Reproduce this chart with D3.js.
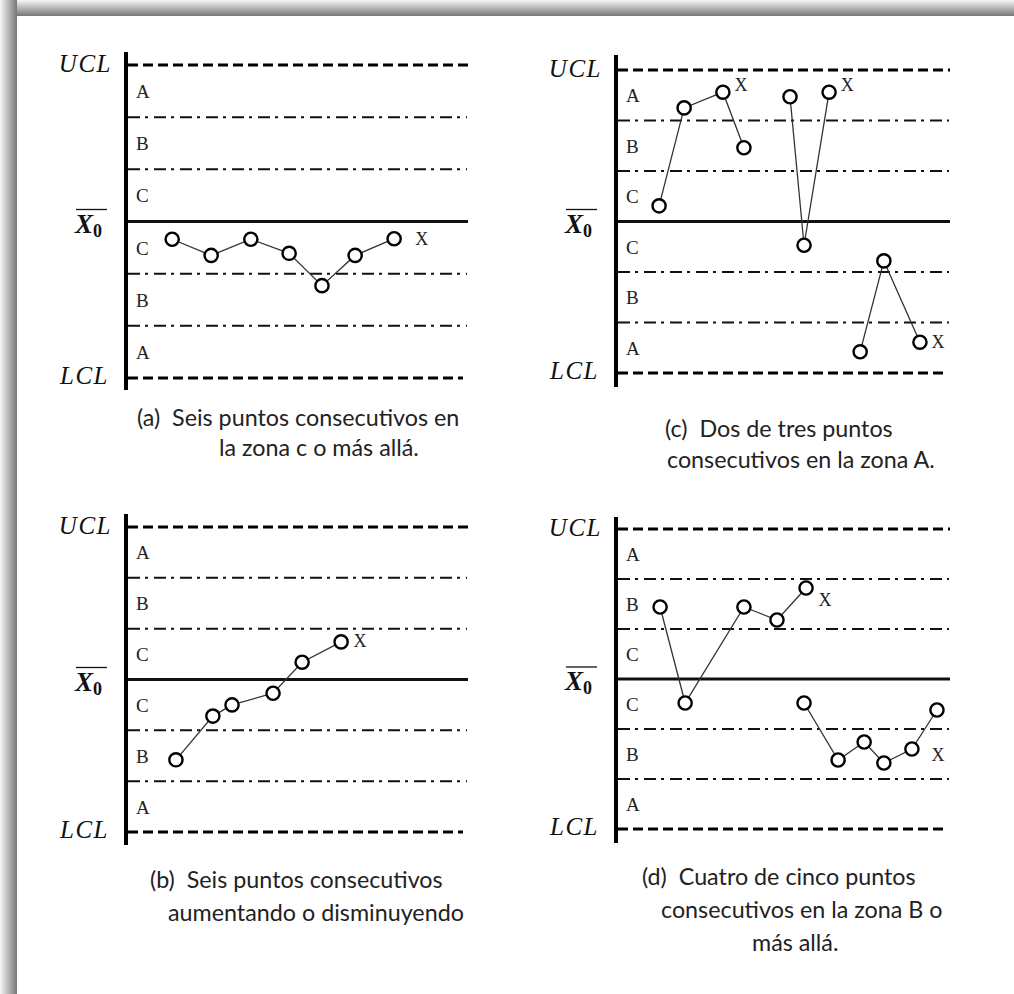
<!DOCTYPE html>
<html><head><meta charset="utf-8">
<script src="https://cdn.jsdelivr.net/npm/d3@7"></script>
<style>body{margin:0;background:#fff;overflow:hidden}</style></head>
<body><svg id="c" width="1014" height="994"></svg>
<script>
// ---- data (values in sigma units; x as % of the chart width) ----
const limitLevels = [3, -3];
const limitLabels = ["UCL", "LCL"];
const zoneLevels = [2, 1, -1, -2];
const zoneLabels = ["A", "B", "C", "C", "B", "A"];
const zoneLabelLevels = [2.5, 1.5, 0.5, -0.5, -1.5, -2.5];
const centerLevel = 0;

// panel (a)
const aX = [13.5, 24.9, 36.5, 47.7, 57.3, 67.0, 78.4];
const aV = [-0.34, -0.65, -0.34, -0.61, -1.23, -0.65, -0.33];
const aMarkX = [86.5];
const aMarkV = [-0.34];
const aCaption = ["(a)  Seis puntos consecutivos en", "la zona c o más allá."];

// panel (b)
const bX = [14.6, 25.4, 31.0, 43.0, 51.5, 62.9];
const bV = [-1.58, -0.72, -0.50, -0.27, 0.34, 0.74];
const bMarkX = [68.4];
const bMarkV = [0.76];
const bCaption = ["(b)  Seis puntos consecutivos", "aumentando o disminuyendo"];

// panel (c)
const c1X = [12.9, 20.4, 32.0, 38.3];
const c1V = [0.31, 2.25, 2.56, 1.46];
const c2X = [52.1, 56.3, 63.8];
const c2V = [2.47, -0.47, 2.56];
const c3X = [73.1, 80.2, 91.0];
const c3V = [-2.58, -0.78, -2.39];
const cMarkX = [37.4, 69.2, 96.4];
const cMarkV = [2.70, 2.70, -2.39];
const cCaption = ["(c)  Dos de tres puntos", "consecutivos en la zona A."];

// panel (d)
const d1X = [13.2, 20.7, 38.3, 48.2, 56.9];
const d1V = [1.44, -0.48, 1.44, 1.18, 1.82];
const d2X = [56.3, 66.5, 74.3, 80.2, 88.6, 96.1];
const d2V = [-0.48, -1.62, -1.26, -1.68, -1.40, -0.62];
const dMarkX = [62.6, 96.4];
const dMarkV = [1.58, -1.52];
const dCaption = ["(d)  Cuatro de cinco puntos", "consecutivos en la zona B o", "más allá."];

// ---- layout ----
const panels = [
  {x0:126, x1:468, yU:65,  yL:378, aT:52,  aB:390, series:[[aX,aV]], mX:aMarkX, mV:aMarkV,
   cap:aCaption, capX:[137,219], capY:[426,456]},
  {x0:126, x1:468, yU:527, yL:832, aT:514, aB:845, series:[[bX,bV]], mX:bMarkX, mV:bMarkV,
   cap:bCaption, capX:[150,168], capY:[888,921]},
  {x0:616, x1:950, yU:70,  yL:373, aT:55,  aB:387, series:[[c1X,c1V],[c2X,c2V],[c3X,c3V]], mX:cMarkX, mV:cMarkV,
   cap:cCaption, capX:[665,667], capY:[437,468]},
  {x0:616, x1:950, yU:529, yL:829, aT:517, aB:843, series:[[d1X,d1V],[d2X,d2V]], mX:dMarkX, mV:dMarkV,
   cap:dCaption, capX:[642,661,752], capY:[885,918,951]}
];

const svg = d3.select("#c");
const defs = svg.append("defs");
const gl = defs.append("linearGradient").attr("id","gl").attr("x1","0").attr("x2","1").attr("y1","0").attr("y2","0");
gl.append("stop").attr("offset","0").attr("stop-color","#f7f7f7");
gl.append("stop").attr("offset","1").attr("stop-color","#777");
const gt = defs.append("linearGradient").attr("id","gt").attr("x1","0").attr("x2","0").attr("y1","0").attr("y2","1");
gt.append("stop").attr("offset","0").attr("stop-color","#f7f7f7");
gt.append("stop").attr("offset","1").attr("stop-color","#777");
svg.append("rect").attr("x",0).attr("y",0).attr("width",1014).attr("height",16).attr("fill","url(#gt)");
svg.append("rect").attr("x",0).attr("y",0).attr("width",17).attr("height",994).attr("fill","url(#gl)");

const serif = "'Liberation Serif', 'DejaVu Serif', serif";
const sans = "Lato, 'Open Sans', sans-serif";

panels.forEach(p => {
  const g = svg.append("g");
  const x = d3.scaleLinear().domain([0,100]).range([p.x0, p.x1]);
  const y = d3.scaleLinear().domain([-3,3]).range([p.yL, p.yU]);

  // zone lines
  g.selectAll(".zone").data(zoneLevels).join("line")
    .attr("x1", p.x0+2).attr("x2", p.x1-1)
    .attr("y1", d=>y(d)).attr("y2", d=>y(d))
    .attr("stroke","#111").attr("stroke-width",2).attr("stroke-dasharray","12,5,3,6");
  // limits
  g.selectAll(".lim").data(limitLevels).join("line")
    .attr("x1", p.x0+2).attr("x2", (d)=> d<0 ? p.x1-5 : p.x1)
    .attr("y1", d=>y(d)).attr("y2", d=>y(d))
    .attr("stroke","#000").attr("stroke-width",3).attr("stroke-dasharray","10,5");
  // center
  g.append("line").attr("x1",p.x0).attr("x2",p.x1).attr("y1",y(centerLevel)).attr("y2",y(centerLevel))
    .attr("stroke","#111").attr("stroke-width",3);
  // axis
  g.append("line").attr("x1",p.x0).attr("x2",p.x0).attr("y1",p.aT).attr("y2",p.aB)
    .attr("stroke","#000").attr("stroke-width",4);

  // zone letters
  g.selectAll(".zl").data(zoneLabels).join("text")
    .attr("x", p.x0+10).attr("y",(d,i)=>y(zoneLabelLevels[i])+7)
    .attr("font-family",serif).attr("font-size",19).attr("fill","#222").text(d=>d);

  // limit labels
  g.selectAll(".ll").data(limitLabels).join("text")
    .attr("x",(d,i)=> i===0 ? p.x0-14 : p.x0-17)
    .attr("y",(d,i)=> y(limitLevels[i])+(i===0?7:6))
    .attr("text-anchor","end").attr("font-family",serif).attr("font-style","italic")
    .attr("font-size",25).attr("letter-spacing",1.5).attr("fill","#111").text(d=>d);

  // X-bar 0
  const xb = g.append("text").attr("x",p.x0-51).attr("y",y(centerLevel)+11)
    .attr("font-family",serif).attr("font-weight","bold").attr("font-style","italic")
    .attr("font-size",27).attr("fill","#111");
  xb.append("tspan").text("X");
  xb.append("tspan").attr("font-size",18).attr("font-style","normal").attr("dx",0).attr("dy",4).text("0");
  g.append("line").attr("x1",p.x0-50).attr("x2",p.x0-19)
    .attr("y1",y(centerLevel)-12).attr("y2",y(centerLevel)-12).attr("stroke","#111").attr("stroke-width",1.3);

  // series
  const line = d3.line().x(d=>x(d[0])).y(d=>y(d[1]));
  p.series.forEach(([sx, sv]) => {
    const pts = sx.map((v,i)=>[v, sv[i]]);
    g.append("path").attr("d", line(pts)).attr("fill","none").attr("stroke","#333").attr("stroke-width",1.3);
  });
  p.series.forEach(([sx, sv]) => {
    const pts = sx.map((v,i)=>[v, sv[i]]);
    g.selectAll(null).data(pts).join("circle")
      .attr("cx",d=>x(d[0])).attr("cy",d=>y(d[1])).attr("r",6.6)
      .attr("fill","#fff").attr("stroke","#000").attr("stroke-width",2.4);
  });
  // X marks
  g.selectAll(null).data(p.mX).join("text")
    .attr("x",d=>x(d)).attr("y",(d,i)=>y(p.mV[i])+6)
    .attr("text-anchor","middle").attr("font-family",serif).attr("font-size",18).attr("fill","#222").text("X");

  // caption
  g.selectAll(null).data(p.cap).join("text")
    .attr("x",(d,i)=>p.capX[i]).attr("y",(d,i)=>p.capY[i])
    .attr("font-family",sans).attr("font-size",23.3).attr("fill","#222")
    .style("white-space","pre").text(d=>d);
});
</script></body></html>
